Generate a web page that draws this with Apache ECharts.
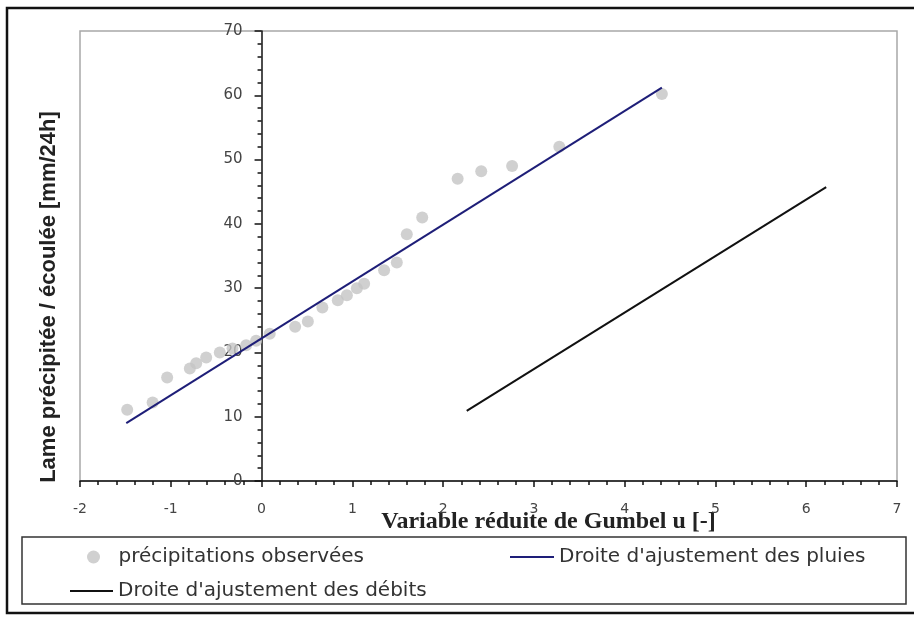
<!DOCTYPE html>
<html>
<head>
<meta charset="utf-8">
<script src="https://cdn.jsdelivr.net/npm/echarts@6/dist/echarts.min.js"></script>
<style>
html,body{margin:0;padding:0;background:#fff;}
#chart{width:914px;height:620px;}
</style>
</head>
<body>
<div id="chart"></div>
<script>
// Observed precipitation: Gumbel reduced variable u and depth [mm/24h]
const uObs = [-1.48,-1.20,-1.04,-0.79,-0.72,-0.61,-0.46,-0.32,-0.17,-0.06,0.09,0.37,0.51,0.67,0.84,0.94,1.05,1.13,1.35,1.49,1.60,1.77,2.16,2.42,2.76,3.28,4.41];
const pObs = [11.1,12.2,16.1,17.5,18.3,19.2,20.0,20.6,21.1,21.8,22.9,24.0,24.8,27.0,28.1,28.9,30.0,30.7,32.8,34.0,38.4,41.0,47.0,48.2,49.0,52.0,60.2];
// Fitted line for rainfall (endpoints)
const uPluies = [-1.49, 4.41];
const pPluies = [9.0, 61.2];
// Fitted line for discharges (endpoints)
const uDebits = [2.26, 6.22];
const qDebits = [10.9, 45.7];

const nameObs = 'précipitations observées';
const namePluies = "Droite d'ajustement des pluies";
const nameDebits = "Droite d'ajustement des débits";
const xTitle = 'Variable réduite de Gumbel u [-]';
const yTitle = 'Lame précipitée / écoulée [mm/24h]';

const zip = (a, b) => a.map((v, i) => [v, b[i]]);

const chart = echarts.init(document.getElementById('chart'), null, {renderer: 'canvas'});
const legendText = {fontFamily: 'DejaVu Sans', fontSize: 20, color: '#333'};

// grid geometry
const gridLeft = 80, gridRight = 17, xMin = -2, xMax = 7;
const plotWidth = 914 - gridLeft - gridRight;
// y axis crosses the x axis at u = 0
const yAxisOffset = -plotWidth * (0 - xMin) / (xMax - xMin);

chart.setOption({
  animation: false,
  backgroundColor: '#fff',
  grid: {left: gridLeft, top: 31, right: gridRight, bottom: 139, containLabel: false, outerBoundsMode: 'none',
         show: true, borderColor: '#a8a8a8', borderWidth: 1.5, backgroundColor: '#fff'},
  xAxis: {
    type: 'value', min: xMin, max: xMax, interval: 1,
    name: xTitle, nameLocation: 'middle', nameGap: 29, nameMoveOverlap: false,
    nameTextStyle: {fontFamily: 'Liberation Serif', fontWeight: 'bold', fontSize: 24, color: '#222', padding: [0, 0, 0, 120]},
    axisLine: {onZero: false, lineStyle: {color: '#111', width: 1.5}},
    axisTick: {length: 6, lineStyle: {color: '#111', width: 1.5}},
    minorTick: {show: true, splitNumber: 5, length: 4, lineStyle: {color: '#111', width: 1.5}},
    axisLabel: {fontFamily: 'DejaVu Sans', fontSize: 14, color: '#444', margin: 21},
    splitLine: {show: false}
  },
  yAxis: {
    type: 'value', min: 0, max: 70, interval: 10, position: 'left', offset: yAxisOffset,
    name: yTitle, nameLocation: 'middle', nameGap: 202, nameRotate: 90, nameMoveOverlap: false,
    nameTextStyle: {fontFamily: 'Liberation Sans', fontWeight: 'bold', fontSize: 22, color: '#222', padding: [0, 82, 0, 0]},
    axisLine: {onZero: false, lineStyle: {color: '#111', width: 1.5}},
    axisTick: {length: 7, lineStyle: {color: '#111', width: 1.5}},
    minorTick: {show: true, splitNumber: 5, length: 4, lineStyle: {color: '#111', width: 1.5}},
    axisLabel: {fontFamily: 'DejaVu Sans', fontSize: 15, color: '#444', margin: 19},
    splitLine: {show: false}
  },
  legend: [
    {data: [nameObs], left: 87, top: 547, itemWidth: 40, itemHeight: 13, icon: 'circle', textStyle: legendText, padding: 0},
    {data: [namePluies], left: 510, top: 547, itemWidth: 44, itemHeight: 2, icon: 'rect', textStyle: legendText, padding: 0},
    {data: [nameDebits], left: 70, top: 581, itemWidth: 43, itemHeight: 2, icon: 'rect', textStyle: legendText, padding: 0}
  ],
  graphic: [
    {type: 'rect', shape: {x: 22, y: 537, width: 884, height: 67}, style: {fill: null, stroke: '#333', lineWidth: 1.5}, silent: true},
    {type: 'rect', shape: {x: 7, y: 8, width: 912, height: 605}, style: {fill: null, stroke: '#111', lineWidth: 2.5}, silent: true}
  ],
  series: [
    {name: nameObs, type: 'scatter', data: zip(uObs, pObs), symbolSize: 12, itemStyle: {color: '#c4c4c4'}, z: 1},
    {name: namePluies, type: 'line', data: zip(uPluies, pPluies), symbol: 'none', lineStyle: {color: '#1e1e78', width: 2}, itemStyle: {color: '#1e1e78'}, z: 3},
    {name: nameDebits, type: 'line', data: zip(uDebits, qDebits), symbol: 'none', lineStyle: {color: '#111', width: 2}, itemStyle: {color: '#111'}, z: 3}
  ]
});
</script>
</body>
</html>
